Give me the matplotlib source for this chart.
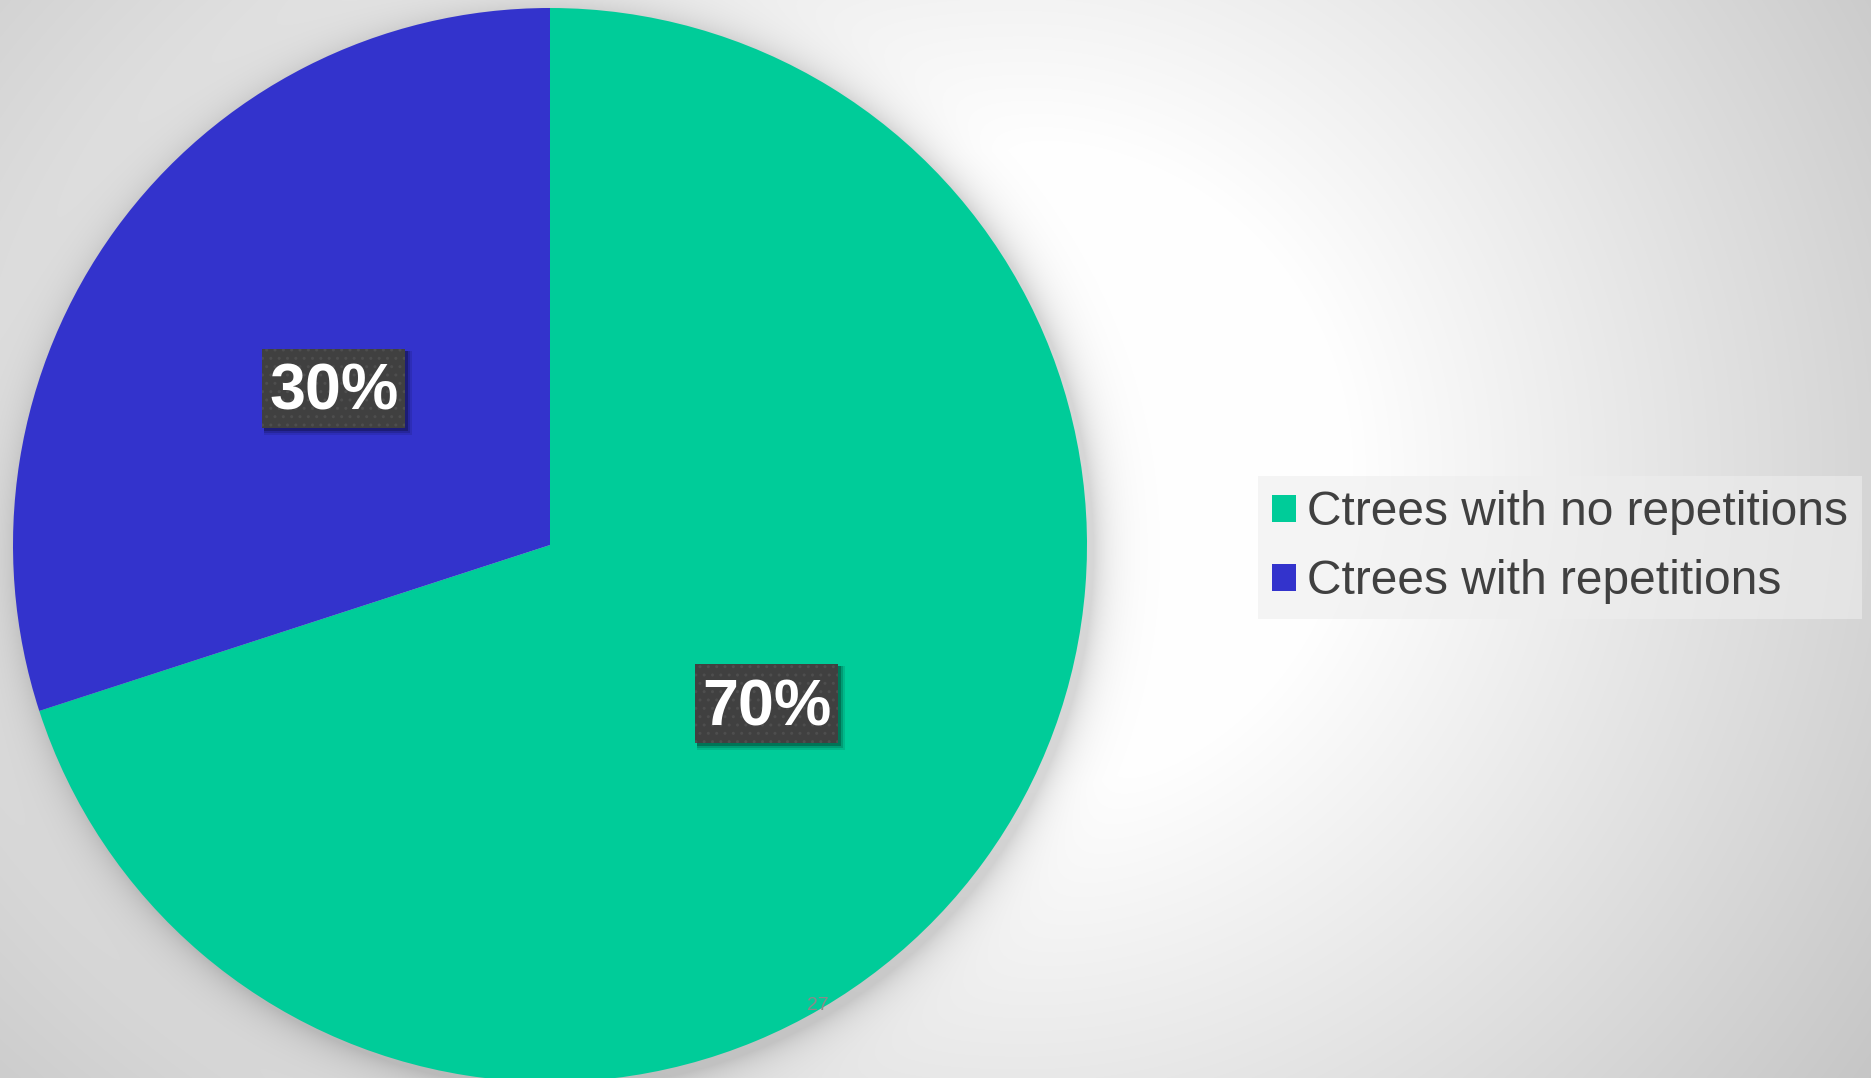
import numpy as np
import matplotlib.pyplot as plt
from matplotlib.patches import Patch, Rectangle

W, H = 1871, 1078

labels = ['Ctrees with no repetitions', 'Ctrees with repetitions']
shares = [70, 30]
colors = ['#00CC99', '#3333CC']

# pie geometry in pixels (y measured from bottom)
cx, cy, r = 550, 1078 - 545, 537

fig = plt.figure(figsize=(W / 100, H / 100), dpi=100)
ax = fig.add_axes([0, 0, 1, 1])

# background: broad radial gray gradient with a soft shadow round the pie
yy, xx = np.mgrid[0:H, 0:W]
yy = H - yy
dx = xx - 1020.0
dx = np.where(dx < 0, dx * 0.72, dx)
dy = yy - (H - 470.0)
dist = np.hypot(dx, dy)
bg = 1.0 - 0.235 * np.clip((dist - 320) / 760, 0, 1)
dpie = np.hypot(xx - (cx + 6), yy - (cy - 6))
shadow = np.where(dpie > r, np.exp(-(dpie - r) / 18.0), 1.0)
bg = bg * (1 - 0.16 * shadow)
ax.imshow(np.dstack([bg, bg, bg]), extent=(0, W, 0, H), origin='upper', zorder=0)

wedges, _ = ax.pie(shares, colors=colors, startangle=90, counterclock=False,
                   center=(cx, cy), radius=r, frame=True,
                   wedgeprops=dict(linewidth=0))
for w in wedges:
    w.set_zorder(2)
ax.set_xlim(0, W)
ax.set_ylim(0, H)
ax.set_aspect('equal')
ax.axis('off')

# data labels in dark boxes with a soft shadow
label_pos = [(767, H - 703), (334, H - 388)]
bw, bh = 143, 79
for (x, y), v in zip(label_pos, shares):
    for k, a in [(7, 0.10), (5, 0.15), (3, 0.25)]:
        ax.add_patch(Rectangle((x - bw / 2 + 2, y - bh / 2 - k), bw + k - 2, bh + k - 2,
                               fc='black', ec='none', alpha=a, zorder=3))
    ax.add_patch(Rectangle((x - bw / 2, y - bh / 2), bw, bh, fc='#404040',
                           ec='#4e4e4e', lw=0, hatch='..', zorder=3.5))
    ax.text(x, y - 5, f'{v}%', ha='center', va='center', fontsize=46.5,
            fontweight='bold', family='Liberation Sans', color='white', zorder=4)

handles = [Patch(facecolor=c, edgecolor='none') for c in colors]
leg = ax.legend(handles, labels, loc='upper left',
                bbox_to_anchor=(1258 / W, 1 - 476 / H), bbox_transform=fig.transFigure,
                prop=dict(family='Liberation Sans', size=34.5), labelcolor='#404040',
                frameon=True, fancybox=False, framealpha=0.6, facecolor='#eeeeee',
                edgecolor='none', handlelength=0.5, handleheight=0.5,
                handletextpad=0.22, labelspacing=0.5, borderpad=0.3, borderaxespad=0)

ax.text(818, H - 1005, '27', ha='center', va='center', fontsize=14,
        family='Liberation Sans', color='#8a8a8a', zorder=5)

fig.savefig('out.png', dpi=100)
